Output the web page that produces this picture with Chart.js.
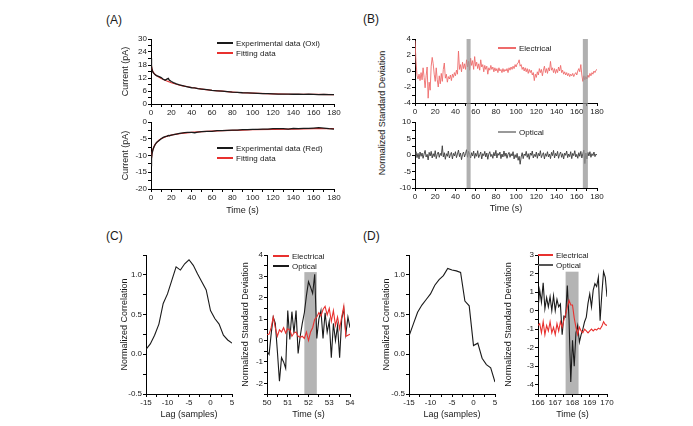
<!DOCTYPE html>
<html>
<head>
<meta charset="utf-8">
<script src="https://cdn.jsdelivr.net/npm/chart.js@4.4.0/dist/chart.umd.min.js"></script>
<style>
body { margin: 0; background: #fff; font-family: "Liberation Sans", Arial, sans-serif; }
#page { position: relative; width: 693px; height: 426px; overflow: hidden; background: #fff; }
canvas { position: absolute; }
.panel-label { position: absolute; font-size: 12px; color: #1a1a1a; line-height: 14px; }
.legend { position: absolute; font-size: 8px; color: #1a1a1a; white-space: nowrap; }
.legend .row { display: flex; align-items: center; height: 10px; }
.legend .swatch { display: inline-block; width: 16px; height: 2px; margin-right: 3px; }
.vtitle { position: absolute; font-size: 9px; color: #1a1a1a; white-space: nowrap; transform: translate(-50%, -50%) rotate(-90deg); }
</style>
</head>
<body>
<div id="page">
  <div class="panel-label" style="left:106px; top:13px;">(A)</div>
  <div class="panel-label" style="left:363px; top:12px;">(B)</div>
  <div class="panel-label" style="left:106px; top:229px;">(C)</div>
  <div class="panel-label" style="left:363px; top:229px;">(D)</div>
  <div class="vtitle" style="left:382px; top:113px;">Normalized Standard Deviation</div>

  <canvas id="aTop"></canvas>
  <canvas id="aBottom"></canvas>
  <canvas id="bTop"></canvas>
  <canvas id="bBottom"></canvas>
  <canvas id="cLeft"></canvas>
  <canvas id="cRight"></canvas>
  <canvas id="dLeft"></canvas>
  <canvas id="dRight"></canvas>
</div>
<script>
// ---- data ----
const timeA = [0, 0.5, 1, 2, 3, 4, 5, 6, 8, 10, 12, 14, 16, 17, 18, 20, 22, 25, 28, 30,
    33, 36, 40, 43, 46, 50, 55, 60, 65, 70, 75, 80, 85, 90, 95, 100, 105, 110, 115, 120,
    125, 130, 135, 140, 145, 150, 155, 160, 165, 170, 175, 180];
const oxiExp = [21, 17.5, 15.8, 14.6, 14.0, 13.6, 13.2, 13.0, 12.6, 12.2,
    11.4, 11.0, 11.6, 11.8, 11.0, 10.4, 9.9, 9.3, 8.8, 8.6,
    8.2, 7.9, 7.5, 7.4, 7.1, 6.9, 6.6, 6.3, 6.1, 5.9,
    5.7, 5.5, 5.4, 5.2, 5.1, 5.0, 4.9, 4.8, 4.8, 4.7,
    4.6, 4.6, 4.6, 4.5, 4.5, 4.4, 4.5, 4.4, 4.3, 4.4, 4.3, 4.3];
const redExp = [-13.0, -11.0, -9.5, -8.2, -7.4, -6.8, -6.3, -6.0, -5.5, -5.0,
    -4.6, -4.4, -4.2, -4.0, -4.1, -3.9, -3.8, -3.6, -3.4, -3.3,
    -3.2, -3.1, -3.1, -3.2, -3.0, -2.9, -2.8, -2.8, -2.6, -2.6,
    -2.5, -2.4, -2.4, -2.3, -2.3, -2.2, -2.2, -2.1, -2.1, -2.0,
    -2.0, -2.0, -2.1, -1.9, -2.0, -1.9, -1.9, -1.8, -1.7, -1.8, -2.0, -2.1];

const timeFit = [0, 1, 2, 4, 6, 8, 10, 15, 20, 25, 30, 40, 50, 60, 70, 80, 90, 100, 120, 140, 160, 180];
const oxiFit = [19, 16, 14.8, 13.6, 12.9, 12.3, 11.8, 10.7, 9.8, 9.1, 8.5, 7.6, 6.9, 6.3, 5.9, 5.5, 5.2, 5.0, 4.7, 4.5, 4.4, 4.3];
const redFit = [-12, -9.3, -8.0, -6.7, -6.0, -5.4, -5.0, -4.3, -3.9, -3.6, -3.4, -3.1, -2.9, -2.7, -2.6, -2.5, -2.4, -2.3, -2.2, -2.1, -2.0, -2.0];

const timeB = [0, 1, 2, 3, 4, 5, 6, 7, 8, 9, 10, 11, 12, 13, 14, 15, 16, 17, 18, 19,
    20, 21, 22, 23, 24, 25, 26, 27, 28, 29, 30, 31, 32, 33, 34, 35, 36, 37, 38, 39,
    40, 41, 42, 43, 44, 45, 46, 47, 48, 49, 50, 51, 52, 53, 54, 55, 56, 57, 58, 59,
    60, 61, 62, 63, 64, 65, 66, 67, 68, 69, 70, 71, 72, 73, 74, 75, 76, 77, 78, 79,
    80, 81, 82, 83, 84, 85, 86, 87, 88, 89, 90, 91, 92, 93, 94, 95, 96, 97, 98, 99,
    100, 101, 102, 103, 104, 105, 106, 107, 108, 109, 110, 111, 112, 113, 114, 115, 116, 117, 118, 119,
    120, 121, 122, 123, 124, 125, 126, 127, 128, 129, 130, 131, 132, 133, 134, 135, 136, 137, 138, 139,
    140, 141, 142, 143, 144, 145, 146, 147, 148, 149, 150, 151, 152, 153, 154, 155, 156, 157, 158, 159,
    160, 161, 162, 163, 164, 165, 166, 167, 168, 169, 170, 171, 172, 173, 174, 175, 176, 177, 178, 179, 180];
const elecB = [3.8, 1.2, -0.6, -1.0, -0.4, -1.2, -0.2, -1.1, 0.4, -0.8,
    -2.1, -0.6, 0.5, -3.4, -1.4, -2.4, 0.6, 1.7, 0.9, -0.4,
    -1.3, 0.4, -1.1, -2.0, -0.6, -1.6, -0.3, -1.3, 0.2, 1.0,
    -0.9, -0.4, -1.4, -0.7, -1.0, -0.5, -1.2, -0.4, -0.8, -0.2,
    -0.6, 0.1, -0.4, 2.5, 0.2, 0.8, -0.1, 1.1, 0.3, 0.9,
    0.2, 1.4, 0.5, 1.2, 0.1, 1.6, 0.7, 1.3, 0.2, 1.8,
    0.6, 1.1, 0.3, 0.9, 0.1, 1.4, 0.5, 0.8, -0.1, 0.7,
    0.2, 0.6, -0.4, 0.4, 0.1, 0.7, 0.2, 0.5, -0.1, 0.4,
    0.0, 0.3, -0.2, 0.4, 0.0, 0.2, -0.2, 0.3, -0.1, 0.2,
    0.0, 0.3, -0.2, 0.4, 0.1, 0.5, 0.2, 0.6, 0.3, 0.8,
    0.5, 0.9, 1.0, 1.4, 0.6, 0.8, 0.2, 0.5, 0.0, 0.4,
    -0.1, 0.3, -0.3, 0.2, -0.2, 0.1, -0.5, -0.2, -1.2, -0.4,
    -0.8, -0.1, -0.5, 0.3, -0.2, 0.2, -0.6, 0.1, 0.6, -0.2,
    0.3, -0.3, 0.4, 0.0, 1.2, 0.1, 0.4, -0.2, 0.3, -0.3,
    0.2, -0.2, 0.5, 0.0, 0.7, -0.2, 0.1, -0.4, -0.1, -0.5,
    -0.2, -0.6, -0.3, -0.7, -0.4, -0.6, -0.3, -0.7, -0.4, -0.2,
    -0.5, 0.0, 0.3, -0.1, 0.8, -0.5, -1.3, -0.6, -1.1, -0.7,
    -1.0, -0.5, -0.8, -0.3, -0.6, -0.2, -0.4, 0.0, -0.2, 0.1, 0.2];
const optB = [-0.2, 1.0, -0.8, 0.5, -1.2, 0.9, -0.4, 0.6, -1.0, 0.3,
    1.4, -0.6, 0.2, -1.5, 0.8, -0.3, 1.1, -0.9, 0.4, -0.5,
    1.3, -1.1, 0.2, 0.9, -0.7, 0.5, -0.2, 2.8, -0.6, 0.7,
    -1.3, 0.4, -0.4, 1.2, -0.9, 0.1, 0.8, -1.2, 0.5, -0.3,
    1.0, -0.8, 0.3, 1.5, -0.5, 0.6, -1.4, 0.2, 0.9, -0.6,
    0.4, 1.6, -0.7, 1.1, 0.2, -0.9, 0.7, -0.3, 1.2, -1.0,
    0.5, -0.4, 1.3, -0.8, 0.1, 0.9, -1.2, 0.4, -0.2, 1.1,
    -0.6, 0.6, -1.3, 0.3, 1.0, -0.5, 0.2, -1.0, 0.8, -0.3,
    1.4, -0.9, 0.5, -0.1, 0.9, -1.1, 0.3, -0.6, 1.2, -0.4,
    0.6, -1.0, 0.2, 0.8, -0.7, 0.4, -0.3, 1.0, -1.2, 0.1,
    -0.8, 0.5, -1.6, -0.4, -2.8, -0.6, 0.7, -1.1, 0.3, -0.2,
    1.1, -0.7, 0.4, -1.3, 0.6, -0.1, 1.2, -0.9, 0.2, -0.5,
    0.9, -1.0, 0.5, -0.3, 1.3, -0.8, 0.1, 0.7, -1.2, 0.4,
    -0.4, 1.0, -0.6, 0.3, -1.1, 0.8, -0.2, 1.4, -0.9, 0.5,
    -0.3, 1.1, -1.0, 0.2, 0.9, -0.7, 0.4, -1.2, 0.6, -0.1,
    1.2, -0.8, 0.3, -0.5, 1.0, -1.1, 0.5, -0.2, 1.3, -0.6,
    0.2, -1.0, 0.7, -0.4, 1.1, -0.9, 0.4, 1.5, -2.6, 0.6,
    -1.2, 0.8, -0.3, 1.0, -0.7, 0.4, -0.2, 0.9, -0.5, 0.3, -0.1];
const bandsB = [[51, 55], [166, 171]];

const lags = [-15, -14, -13, -12, -11, -10, -9, -8, -7, -6, -5, -4, -3, -2, -1, 0, 1, 2, 3, 4, 5];
const corrC = [0.06, 0.13, 0.24, 0.38, 0.64, 0.76, 0.93, 1.10, 1.06, 1.14, 1.19, 1.12, 1.01, 0.91, 0.81, 0.55, 0.45, 0.38, 0.24, 0.18, 0.14];
const corrD = [0.23, 0.38, 0.53, 0.62, 0.69, 0.76, 0.87, 0.94, 0.99, 1.08, 1.06, 1.05, 1.03, 0.67, 0.61, 0.11, 0.14, -0.05, -0.13, -0.17, -0.35];

const timeC = [50.0, 50.1, 50.2, 50.3, 50.4, 50.5, 50.6, 50.7, 50.8, 50.9,
    51.0, 51.1, 51.2, 51.3, 51.4, 51.5, 51.6, 51.7, 51.8, 51.9,
    52.0, 52.1, 52.2, 52.3, 52.4, 52.5, 52.6, 52.7, 52.8, 52.9,
    53.0, 53.1, 53.2, 53.3, 53.4, 53.5, 53.6, 53.7, 53.8, 53.9, 54.0];
const elecC = [0.27, 0.3, 0.6, 1.1, 0.6, 0.2, 0.5, 0.4, 0.6, 0.35,
    0.55, 0.5, 0.2, 0.35, 0.4, 0.2, 0.15, 0.2, 0.1, 0.4,
    0.0, 0.4, 0.6, 1.0, 1.1, 1.3, 1.15, 1.45, 1.6, 1.2,
    1.5, 0.9, 1.4, 0.7, 1.1, 0.55, 1.1, 1.6, 0.2, 0.25, 0.3];
const optC = [-0.5, -0.65, 0.3, 1.1, 0.8, -0.5, -1.9, -0.8, -1.0, -1.3,
    1.4, 0.05, 1.35, 0.35, 1.4, -0.6, 0.2, 0.8, 1.3, 2.1,
    2.75, 2.5, 2.2, 3.1, 0.1, 1.0, 1.4, 0.1, 1.3, 0.4,
    0.9, -0.8, 0.8, 0.0, 0.7, -0.8, 1.0, 1.5, 0.3, 1.1, 0.6];
const bandC = [[51.8, 52.4]];

const timeD = [166.0, 166.1, 166.2, 166.3, 166.4, 166.5, 166.6, 166.7, 166.8, 166.9,
    167.0, 167.1, 167.2, 167.3, 167.4, 167.5, 167.6, 167.7, 167.8, 167.9,
    168.0, 168.1, 168.2, 168.3, 168.4, 168.5, 168.6, 168.7, 168.8, 168.9,
    169.0, 169.1, 169.2, 169.3, 169.4, 169.5, 169.6, 169.7, 169.8, 169.9, 170.0];
const elecD = [-0.8, -0.7, -1.2, -0.6, -1.3, -0.8, -1.1, -0.6, -1.2, -0.9,
    -1.3, -0.7, -1.1, -0.6, -0.9, -0.5, -0.2, 0.2, 0.55, 0.3,
    0.3, -0.4, -0.9, -1.3, -0.9, -1.1, -1.2, -1.0, -1.1, -1.2,
    -1.1, -1.0, -1.1, -1.0, -1.05, -0.95, -1.0, -0.85, -0.6, -0.75, -0.8];
const optD = [0.1, 1.1, 0.45, 1.5, 0.1, 0.7, 0.2, 0.75, 0.0, 0.8,
    0.0, 0.6, 0.2, 0.35, -1.3, -0.3, -0.35, 1.35, -0.5, -3.85,
    -1.6, -3.0, -1.2, -0.8, -1.7, -1.3, -1.0, -0.6, -0.35, 0.4,
    0.9, 0.2, 1.1, 1.45, 1.3, 1.8, -0.55, 0.9, 2.1, 1.8, 0.75];
const bandD = [[167.6, 168.35]];

// ---- drawing ----
Chart.defaults.font.family = '"Liberation Sans", Arial, sans-serif';
Chart.defaults.font.size = 8;
Chart.defaults.color = '#1a1a1a';

const PAD_T = 8, PAD_R = 12;
const RED = '#e8312f', BLACK = '#1a1a1a', PINK = '#ee6b6b';

function pts(xs, ys) {
    return xs.map((x, i) => ({ x: x, y: ys[i] }));
}

function isStep(v, every) {
    const r = v / every;
    return Math.abs(r - Math.round(r)) < 1e-6;
}

function axis(o) {
    return {
        type: 'linear',
        min: o.min,
        max: o.max,
        afterFit: function (s) {
            if (s.isHorizontal()) s.height = o.size; else s.width = o.size;
        },
        border: { display: true, color: '#000', width: 1 },
        grid: { drawOnChartArea: false, drawTicks: true, color: '#000', tickLength: 3 },
        ticks: {
            stepSize: o.step,
            autoSkip: false,
            maxRotation: 0,
            padding: 1,
            color: '#1a1a1a',
            font: { size: 8 },
            callback: v => isStep(v, o.every) ? (o.dec ? v.toFixed(o.dec) : String(Math.round(v))) : ''
        },
        title: o.title
            ? { display: true, text: o.title, padding: 0, color: '#1a1a1a', font: { size: 9 } }
            : { display: false }
    };
}

function drawBands(chart, o) {
    const ctx = chart.ctx;
    const area = chart.chartArea;
    const xs = chart.scales.x, ys = chart.scales.y;
    let top = area.top;
    if (o.up) top = 0;
    else if (o.top !== undefined) top = ys.getPixelForValue(o.top);
    const bottom = o.down ? chart.height : area.bottom;
    ctx.save();
    ctx.fillStyle = o.color;
    o.ranges.forEach(r => {
        const x0 = xs.getPixelForValue(r[0]);
        const x1 = xs.getPixelForValue(r[1]);
        ctx.fillRect(x0, top, x1 - x0, bottom - top);
    });
    ctx.restore();
}

const bandPlugin = {
    id: 'bands',
    beforeDatasetsDraw(chart, args, o) { if (o.ranges && !o.over) drawBands(chart, o); },
    afterDatasetsDraw(chart, args, o) { if (o.ranges && o.over) drawBands(chart, o); }
};

function line(data, color, width) {
    return { data: data, borderColor: color, borderWidth: width, pointRadius: 0, tension: 0, fill: false };
}

function makeChart(id, rect, yw, xh, datasets, xo, yo, bands) {
    const cv = document.getElementById(id);
    cv.style.left = (rect[0] - yw) + 'px';
    cv.style.top = (rect[1] - PAD_T) + 'px';
    cv.width = rect[2] - rect[0] + yw + PAD_R;
    cv.height = rect[3] - rect[1] + PAD_T + xh;
    xo.size = xh;
    yo.size = yw;
    return new Chart(cv, {
        type: 'line',
        data: { datasets: datasets },
        options: {
            responsive: false,
            animation: false,
            devicePixelRatio: 1,
            layout: { padding: { top: PAD_T, right: PAD_R, left: 0, bottom: 0 } },
            plugins: {
                legend: { display: false },
                tooltip: { enabled: false },
                bands: bands || {}
            },
            scales: { x: axis(xo), y: axis(yo) }
        },
        plugins: [bandPlugin]
    });
}

function legend(x, y, items) {
    const div = document.createElement('div');
    div.className = 'legend';
    div.style.left = x + 'px';
    div.style.top = Math.round(y - 5) + 'px';
    items.forEach(it => {
        const row = document.createElement('div');
        row.className = 'row';
        const sw = document.createElement('span');
        sw.className = 'swatch';
        sw.style.width = (it.w || 16) + 'px';
        sw.style.background = it.color;
        row.appendChild(sw);
        row.appendChild(document.createTextNode(it.text));
        div.appendChild(row);
    });
    document.getElementById('page').appendChild(div);
}

function initFigure() {
    const xTime = { min: 0, max: 180, step: 10, every: 20 };

    // (A) oxidation / reduction currents
    makeChart('aTop', [151, 39, 334, 104], 31, 14,
        [line(pts(timeA, oxiExp), BLACK, 1.3), line(pts(timeFit, oxiFit), RED, 1.2)],
        Object.assign({}, xTime),
        { min: 0, max: 30, step: 3, every: 6, title: 'Current (pA)' });
    makeChart('aBottom', [151, 122, 334, 189], 31, 27,
        [line(pts(timeA, redExp), BLACK, 1.3), line(pts(timeFit, redFit), RED, 1.2)],
        Object.assign({ title: 'Time (s)' }, xTime),
        { min: -20, max: 0, step: 2.5, every: 5, title: 'Current (pA)' });

    // (B) electrical / optical traces
    makeChart('bTop', [415, 39, 597, 103], 24, 11,
        [line(pts(timeB, elecB), PINK, 0.9)],
        Object.assign({}, xTime),
        { min: -4, max: 4, step: 1, every: 2 },
        { ranges: bandsB, over: true, down: true, color: 'rgba(150,150,150,0.75)' });
    makeChart('bBottom', [415, 122, 597, 188], 24, 26,
        [line(pts(timeB, optB), '#3a3a3a', 0.9)],
        Object.assign({ title: 'Time (s)' }, xTime),
        { min: -10, max: 10, step: 2.5, every: 5 },
        { ranges: bandsB, over: true, up: true, color: 'rgba(150,150,150,0.75)' });

    // (C)
    makeChart('cLeft', [146, 255, 232, 394], 27, 26,
        [line(pts(lags, corrC), BLACK, 1.1)],
        { min: -15, max: 5, step: 2.5, every: 5, title: 'Lag (samples)' },
        { min: -0.5, max: 1.25, step: 0.25, every: 0.5, dec: 1, title: 'Normalized Correlation' });
    makeChart('cRight', [267, 255, 350, 394], 27, 26,
        [line(pts(timeC, elecC), RED, 1.1), line(pts(timeC, optC), BLACK, 1.1)],
        { min: 50, max: 54, step: 0.5, every: 1, title: 'Time (s)' },
        { min: -2.5, max: 4, step: 0.5, every: 1, title: 'Normalized Standard Deviation' },
        { ranges: bandC, top: 3.2, color: '#b4b4b4' });

    // (D)
    makeChart('dLeft', [409, 255, 495, 394], 28, 26,
        [line(pts(lags, corrD), BLACK, 1.1)],
        { min: -15, max: 5, step: 2.5, every: 5, title: 'Lag (samples)' },
        { min: -0.5, max: 1.25, step: 0.25, every: 0.5, dec: 1, title: 'Normalized Correlation' });
    makeChart('dRight', [538, 255, 607, 394], 35, 26,
        [line(pts(timeD, elecD), RED, 1.1), line(pts(timeD, optD), BLACK, 1.1)],
        { min: 166, max: 170, step: 0.5, every: 1, title: 'Time (s)' },
        { min: -4.5, max: 3, step: 0.5, every: 1, title: 'Normalized Standard Deviation' },
        { ranges: bandD, top: 2.1, color: '#b4b4b4' });

    legend(217, 43, [{ text: 'Experimental data (Oxi)', color: BLACK }, { text: 'Fitting data', color: RED }]);
    legend(217, 148, [{ text: 'Experimental data (Red)', color: BLACK }, { text: 'Fitting data', color: RED }]);
    legend(498, 48, [{ text: 'Electrical', color: PINK, w: 18 }]);
    legend(498, 132, [{ text: 'Optical', color: '#999', w: 18 }]);
    legend(273, 256, [{ text: 'Electrical', color: RED }, { text: 'Optical', color: BLACK }]);
    legend(538, 255, [{ text: 'Electrical', color: RED, w: 15 }, { text: 'Optical', color: '#555', w: 15 }]);
}

window.onload = initFigure;
</script>
</body>
</html>
